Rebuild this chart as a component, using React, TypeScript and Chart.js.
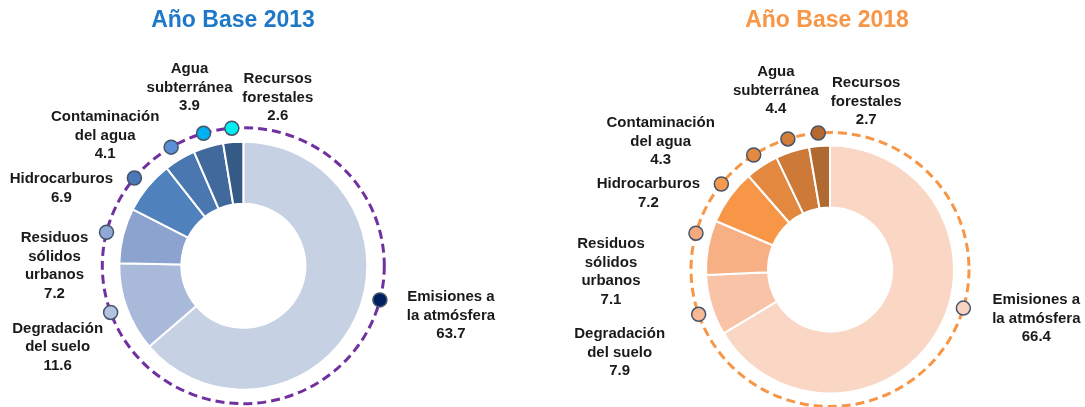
import React, { useEffect, useRef } from "react";
import { Chart, registerables } from "chart.js";

Chart.register(...registerables);

// ---------- data ----------
const CATEGORIES: string[][] = [
  ["Emisiones a", "la atmósfera"],
  ["Degradación", "del suelo"],
  ["Residuos", "sólidos", "urbanos"],
  ["Hidrocarburos"],
  ["Contaminación", "del agua"],
  ["Agua", "subterránea"],
  ["Recursos", "forestales"],
];
const VALUES_2013 = [63.7, 11.6, 7.2, 6.9, 4.1, 3.9, 2.6];
const VALUES_2018 = [66.4, 7.9, 7.1, 7.2, 4.3, 4.4, 2.7];
const TITLE_2013 = "Año Base 2013";
const TITLE_2018 = "Año Base 2018";

// ---------- styles ----------
const SLICE_COLORS_2013 = ["#C6D1E4", "#A9B9D9", "#8BA3CE", "#4F81BD", "#4A77B0", "#42699C", "#365A86"];
const DOT_COLORS_2013 = ["#002060", "#B4C3E0", "#8FA8D6", "#4A78B8", "#5B8FD6", "#00B0F0", "#00EEF2"];
const SLICE_COLORS_2018 = ["#FAD6C4", "#F8C3A6", "#F7B084", "#F79646", "#E3883F", "#CD7A39", "#B06A31"];
const DOT_COLORS_2018 = ["#FAD3C0", "#F7B896", "#F5A97E", "#F49A4F", "#E38A40", "#D27D38", "#B5692E"];

const W = 1085;
const H = 407;
const HALF = 130;
const FONT = "'Liberation Sans', Arial, Helvetica, sans-serif";

type Cfg = {
  values: number[];
  sliceColors: string[];
  dotColors: string[];
  title: string;
  titleColor: string;
  titleX: number;
  cx: number;
  cy: number;
  ringColor: string;
  rx: number;
  ry: number;
  dotFrac: number[];
  labelOffsets: [number, number][];
};

const LEFT: Cfg = {
  values: VALUES_2013,
  sliceColors: SLICE_COLORS_2013,
  dotColors: DOT_COLORS_2013,
  title: TITLE_2013,
  titleColor: "#1E78C8",
  titleX: 233,
  cx: 243.3,
  cy: 265.7,
  ringColor: "#7030A0",
  rx: 141,
  ry: 138,
  dotFrac: [0.455, 0.5, 0.5, 0.5, 0.5, 0.5, 0.5],
  labelOffsets: [[71, -3], [-53, 16], [-52, 6], [-73, 1], [-66, -30], [-14, -64], [46, -49]],
};

const RIGHT: Cfg = {
  values: VALUES_2018,
  sliceColors: SLICE_COLORS_2018,
  dotColors: DOT_COLORS_2018,
  title: TITLE_2018,
  titleColor: "#F79646",
  titleX: 827,
  cx: 830,
  cy: 269.5,
  ringColor: "#F79646",
  rx: 139,
  ry: 137,
  dotFrac: [0.445, 0.417, 0.7, 0.6, 0.5, 0.5, 0.5],
  labelOffsets: [[73, -8], [-79, 20], [-85, 11], [-73, 0], [-93, -32], [-12, -67], [48, -50]],
};

function makeDecor(cfg: Cfg) {
  return {
    id: "decor",
    afterDraw(chart: any) {
      const ctx: CanvasRenderingContext2D = chart.ctx;
      const meta = chart.getDatasetMeta(0);
      const arcs = meta.data;
      if (!arcs.length) return;
      const cx = arcs[0].x;
      const cy = arcs[0].y;
      ctx.save();
      // dashed ring
      ctx.beginPath();
      ctx.setLineDash([9, 5]);
      ctx.lineWidth = 3;
      ctx.strokeStyle = cfg.ringColor;
      ctx.ellipse(cx, cy, cfg.rx, cfg.ry, 0, 0, Math.PI * 2);
      ctx.stroke();
      ctx.setLineDash([]);

      arcs.forEach((arc: any, i: number) => {
        const a = arc.startAngle + (arc.endAngle - arc.startAngle) * cfg.dotFrac[i];
        const x = cx + cfg.rx * Math.cos(a);
        const y = cy + cfg.ry * Math.sin(a);
        ctx.beginPath();
        ctx.arc(x, y, 7, 0, Math.PI * 2);
        ctx.fillStyle = cfg.dotColors[i];
        ctx.fill();
        ctx.lineWidth = 1.5;
        ctx.strokeStyle = "#46546A";
        ctx.stroke();

        const lines = [...CATEGORIES[i], cfg.values[i].toFixed(1)];
        const [dx, dy] = cfg.labelOffsets[i];
        ctx.font = `bold 15px ${FONT}`;
        ctx.fillStyle = "#1A1A1A";
        ctx.textAlign = "center";
        ctx.textBaseline = "middle";
        lines.forEach((t, k) => ctx.fillText(t, x + dx, y + dy + k * 18.5));
      });

      ctx.font = `bold 23px ${FONT}`;
      ctx.fillStyle = cfg.titleColor;
      ctx.textAlign = "center";
      ctx.textBaseline = "middle";
      ctx.fillText(cfg.title, cfg.titleX, 21);
      ctx.restore();
    },
  };
}

function Donut({ cfg }: { cfg: Cfg }) {
  const ref = useRef<HTMLCanvasElement | null>(null);
  useEffect(() => {
    if (!ref.current) return;
    const chart = new Chart(ref.current, {
      type: "doughnut",
      data: {
        labels: CATEGORIES.map((c) => c.join(" ")),
        datasets: [
          {
            data: cfg.values,
            backgroundColor: cfg.sliceColors,
            borderColor: "#FFFFFF",
            borderWidth: 2,
          },
        ],
      },
      options: {
        responsive: false,
        animation: false,
        devicePixelRatio: 1,
        events: [],
        cutout: "50%",
        radius: 124,
        layout: {
          padding: {
            left: cfg.cx - HALF,
            right: W - cfg.cx - HALF,
            top: cfg.cy - HALF,
            bottom: H - cfg.cy - HALF,
          },
        },
        plugins: {
          legend: { display: false },
          tooltip: { enabled: false },
          title: { display: false },
        },
      } as any,
      plugins: [makeDecor(cfg)],
    });
    return () => chart.destroy();
  }, [cfg]);
  return (
    <canvas
      ref={ref}
      width={W}
      height={H}
      style={{ position: "absolute", left: 0, top: 0, width: W, height: H, display: "block" }}
    />
  );
}

export default function App() {
  useEffect(() => {
    document.body.style.margin = "0";
    document.body.style.background = "#FFFFFF";
  }, []);
  return (
    <div style={{ position: "relative", width: W, height: H, background: "#FFFFFF", overflow: "hidden" }}>
      <Donut cfg={LEFT} />
      <Donut cfg={RIGHT} />
    </div>
  );
}
